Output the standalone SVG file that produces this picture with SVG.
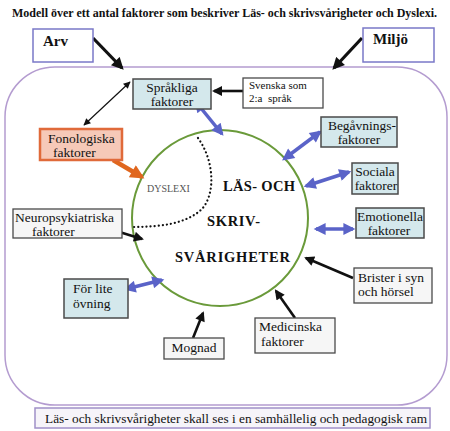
<svg xmlns="http://www.w3.org/2000/svg" width="450" height="431" viewBox="0 0 450 431" font-family="'Liberation Serif', 'Times New Roman', serif">
<style>
.t{font-size:13.5px}
.s{font-size:11px}
.b{font-weight:bold}
.blue{fill:#d4e8ec;stroke:#4a4a4a;stroke-width:1.5}
.wht{fill:#ffffff;stroke:#4a4a4a;stroke-width:1.3}
.gry{fill:#f6f6f6;stroke:#4a4a4a;stroke-width:1.3}
.frm{fill:#ffffff;stroke:#7a78c8;stroke-width:1.5}
.ba{stroke:#5a63c8;stroke-width:3.5;fill:none;marker-start:url(#bh);marker-end:url(#bh)}
.ka{stroke:#111;stroke-width:2.6;fill:none;marker-end:url(#kh)}
.kb{stroke:#111;stroke-width:3.2;fill:none;marker-end:url(#kb)}
</style>
<defs>
<marker id="bh" viewBox="0 0 10 10" refX="8" refY="5" markerWidth="14" markerHeight="12" markerUnits="userSpaceOnUse" orient="auto-start-reverse"><path d="M0,0 L10,5 L0,10 z" fill="#5a63c8"/></marker>
<marker id="kh" viewBox="0 0 10 10" refX="8" refY="5" markerWidth="12" markerHeight="10" markerUnits="userSpaceOnUse" orient="auto"><path d="M0,0 L10,5 L0,10 z" fill="#111"/></marker>
<marker id="kb" viewBox="0 0 10 10" refX="8" refY="5" markerWidth="14" markerHeight="12" markerUnits="userSpaceOnUse" orient="auto"><path d="M0,0 L10,5 L0,10 z" fill="#111"/></marker>
<marker id="th" viewBox="0 0 10 10" refX="9" refY="5" markerWidth="9" markerHeight="7" markerUnits="userSpaceOnUse" orient="auto-start-reverse"><path d="M0,0 L10,5 L0,10 z" fill="#111"/></marker>
<marker id="oh" viewBox="0 0 10 10" refX="8" refY="5" markerWidth="16" markerHeight="14" markerUnits="userSpaceOnUse" orient="auto"><path d="M0,0 L10,5 L0,10 z" fill="#e0661e"/></marker>
</defs>
<rect width="450" height="431" fill="#ffffff"/>
<g fill="#111">
<text x="12" y="17" class="b" font-size="12" textLength="425" lengthAdjust="spacingAndGlyphs">Modell över ett antal faktorer som beskriver Läs- och skrivsvårigheter och Dyslexi.</text>
<g id="frame"><rect x="5" y="67" width="442" height="338" rx="50" ry="50" fill="none" stroke="#b49cd0" stroke-width="1.5"/></g>
<g id="center">
<circle cx="220" cy="218" r="88" fill="#ffffff" stroke="#6a9a3a" stroke-width="2"/>
<path d="M198,138 C214,160 216,193 202,209 C186,224 160,227 132,227" fill="none" stroke="#111" stroke-width="2.2" stroke-linecap="round" stroke-dasharray="0.1 4"/>
<text x="147" y="192" font-size="10" fill="#555">DYSLEXI</text>
<text x="223" y="191" class="b" font-size="14.5" textLength="72">LÄS- OCH</text>
<text x="207" y="226" class="b" font-size="14.5" textLength="53">SKRIV-</text>
<text x="175" y="262" class="b" font-size="14.5" textLength="115">SVÅRIGHETER</text>
</g>
<g id="connectors">
<line x1="93" y1="38" x2="122" y2="68" class="kb"/>
<line x1="362" y1="38" x2="334" y2="68" class="kb"/>
<line x1="243" y1="91" x2="214" y2="91" class="ka"/>
<line x1="130" y1="82" x2="84" y2="125" stroke="#111" stroke-width="1.2" marker-start="url(#th)" marker-end="url(#th)"/>
<line x1="113" y1="160" x2="142" y2="177" stroke="#e0661e" stroke-width="4.5" marker-end="url(#oh)"/>
<line x1="196" y1="102" x2="222" y2="134" class="ba"/>
<line x1="320" y1="132" x2="284" y2="159" class="ba"/>
<line x1="349" y1="172" x2="306" y2="186" class="ba"/>
<line x1="316" y1="229" x2="353" y2="229" class="ba"/>
<line x1="353" y1="278" x2="306" y2="258" class="ka"/>
<line x1="295" y1="318" x2="276" y2="291" class="ka"/>
<line x1="193" y1="338" x2="203" y2="313" class="ka"/>
<line x1="126" y1="289" x2="162" y2="280" class="ba"/>
<line x1="113" y1="230" x2="142" y2="239" class="ka"/>
</g>
<g id="arv"><rect x="33" y="29" width="60" height="33" class="frm"/><text x="43" y="46" class="b" font-size="15">Arv</text></g>
<g id="miljo"><rect x="363" y="28" width="71" height="34" class="frm"/><text x="373" y="44" class="b" font-size="15">Miljö</text></g>
<g id="sprakliga"><rect x="133" y="79" width="78" height="30" class="blue"/><text x="172" y="92" class="t" text-anchor="middle">Språkliga</text><text x="172" y="106" class="t" text-anchor="middle">faktorer</text></g>
<g id="svenska"><rect x="243" y="78" width="80" height="30" class="wht"/><text x="249" y="89" class="s">Svenska som</text><text x="249" y="102" class="s" xml:space="preserve">2:a  språk</text></g>
<g id="fonologiska"><rect x="40" y="129" width="82" height="31" fill="#f6c9b8" stroke="#e06a3a" stroke-width="2.5"/><text x="48" y="143" class="t">Fonologiska</text><text x="53" y="157" class="t">faktorer</text></g>
<g id="begavnings"><rect x="321" y="117" width="76" height="30" class="blue"/><text x="362" y="130" class="t" text-anchor="middle">Begåvnings-</text><text x="359" y="144" class="t" text-anchor="middle">faktorer</text></g>
<g id="sociala"><rect x="352" y="163" width="46" height="31" class="blue"/><text x="375" y="176" class="t" text-anchor="middle">Sociala</text><text x="376" y="190" class="t" text-anchor="middle">faktorer</text></g>
<g id="emotionella"><rect x="356" y="208" width="68" height="30" class="blue"/><text x="390" y="221" class="t" text-anchor="middle">Emotionella</text><text x="389" y="235" class="t" text-anchor="middle">faktorer</text></g>
<g id="brister"><rect x="354" y="268" width="78" height="35" class="gry"/><text x="358" y="282" class="t">Brister i syn</text><text x="358" y="296" class="t">och hörsel</text></g>
<g id="medicinska"><rect x="255" y="318" width="80" height="35" class="gry"/><text x="259" y="331" class="t">Medicinska</text><text x="261" y="346" class="t">faktorer</text></g>
<g id="mognad"><rect x="164" y="338" width="60" height="21" class="gry"/><text x="194" y="352" class="t" text-anchor="middle">Mognad</text></g>
<g id="forlite"><rect x="64" y="279" width="64" height="39" class="blue"/><text x="73" y="293" class="t">För lite</text><text x="73" y="308" class="t">övning</text></g>
<g id="neuro"><rect x="13" y="209" width="109" height="29" class="gry"/><text x="15" y="222" class="t">Neuropsykiatriska</text><text x="32" y="236" class="t">faktorer</text></g>
<g id="bottom"><rect x="35" y="408" width="395" height="20" fill="#f6f4f9" stroke="#a090c8" stroke-width="1.5"/><text x="45" y="423" font-size="12.5" textLength="382" lengthAdjust="spacingAndGlyphs">Läs- och skrivsvårigheter skall ses i en samhällelig och pedagogisk ram</text></g>
</g>
</svg>
